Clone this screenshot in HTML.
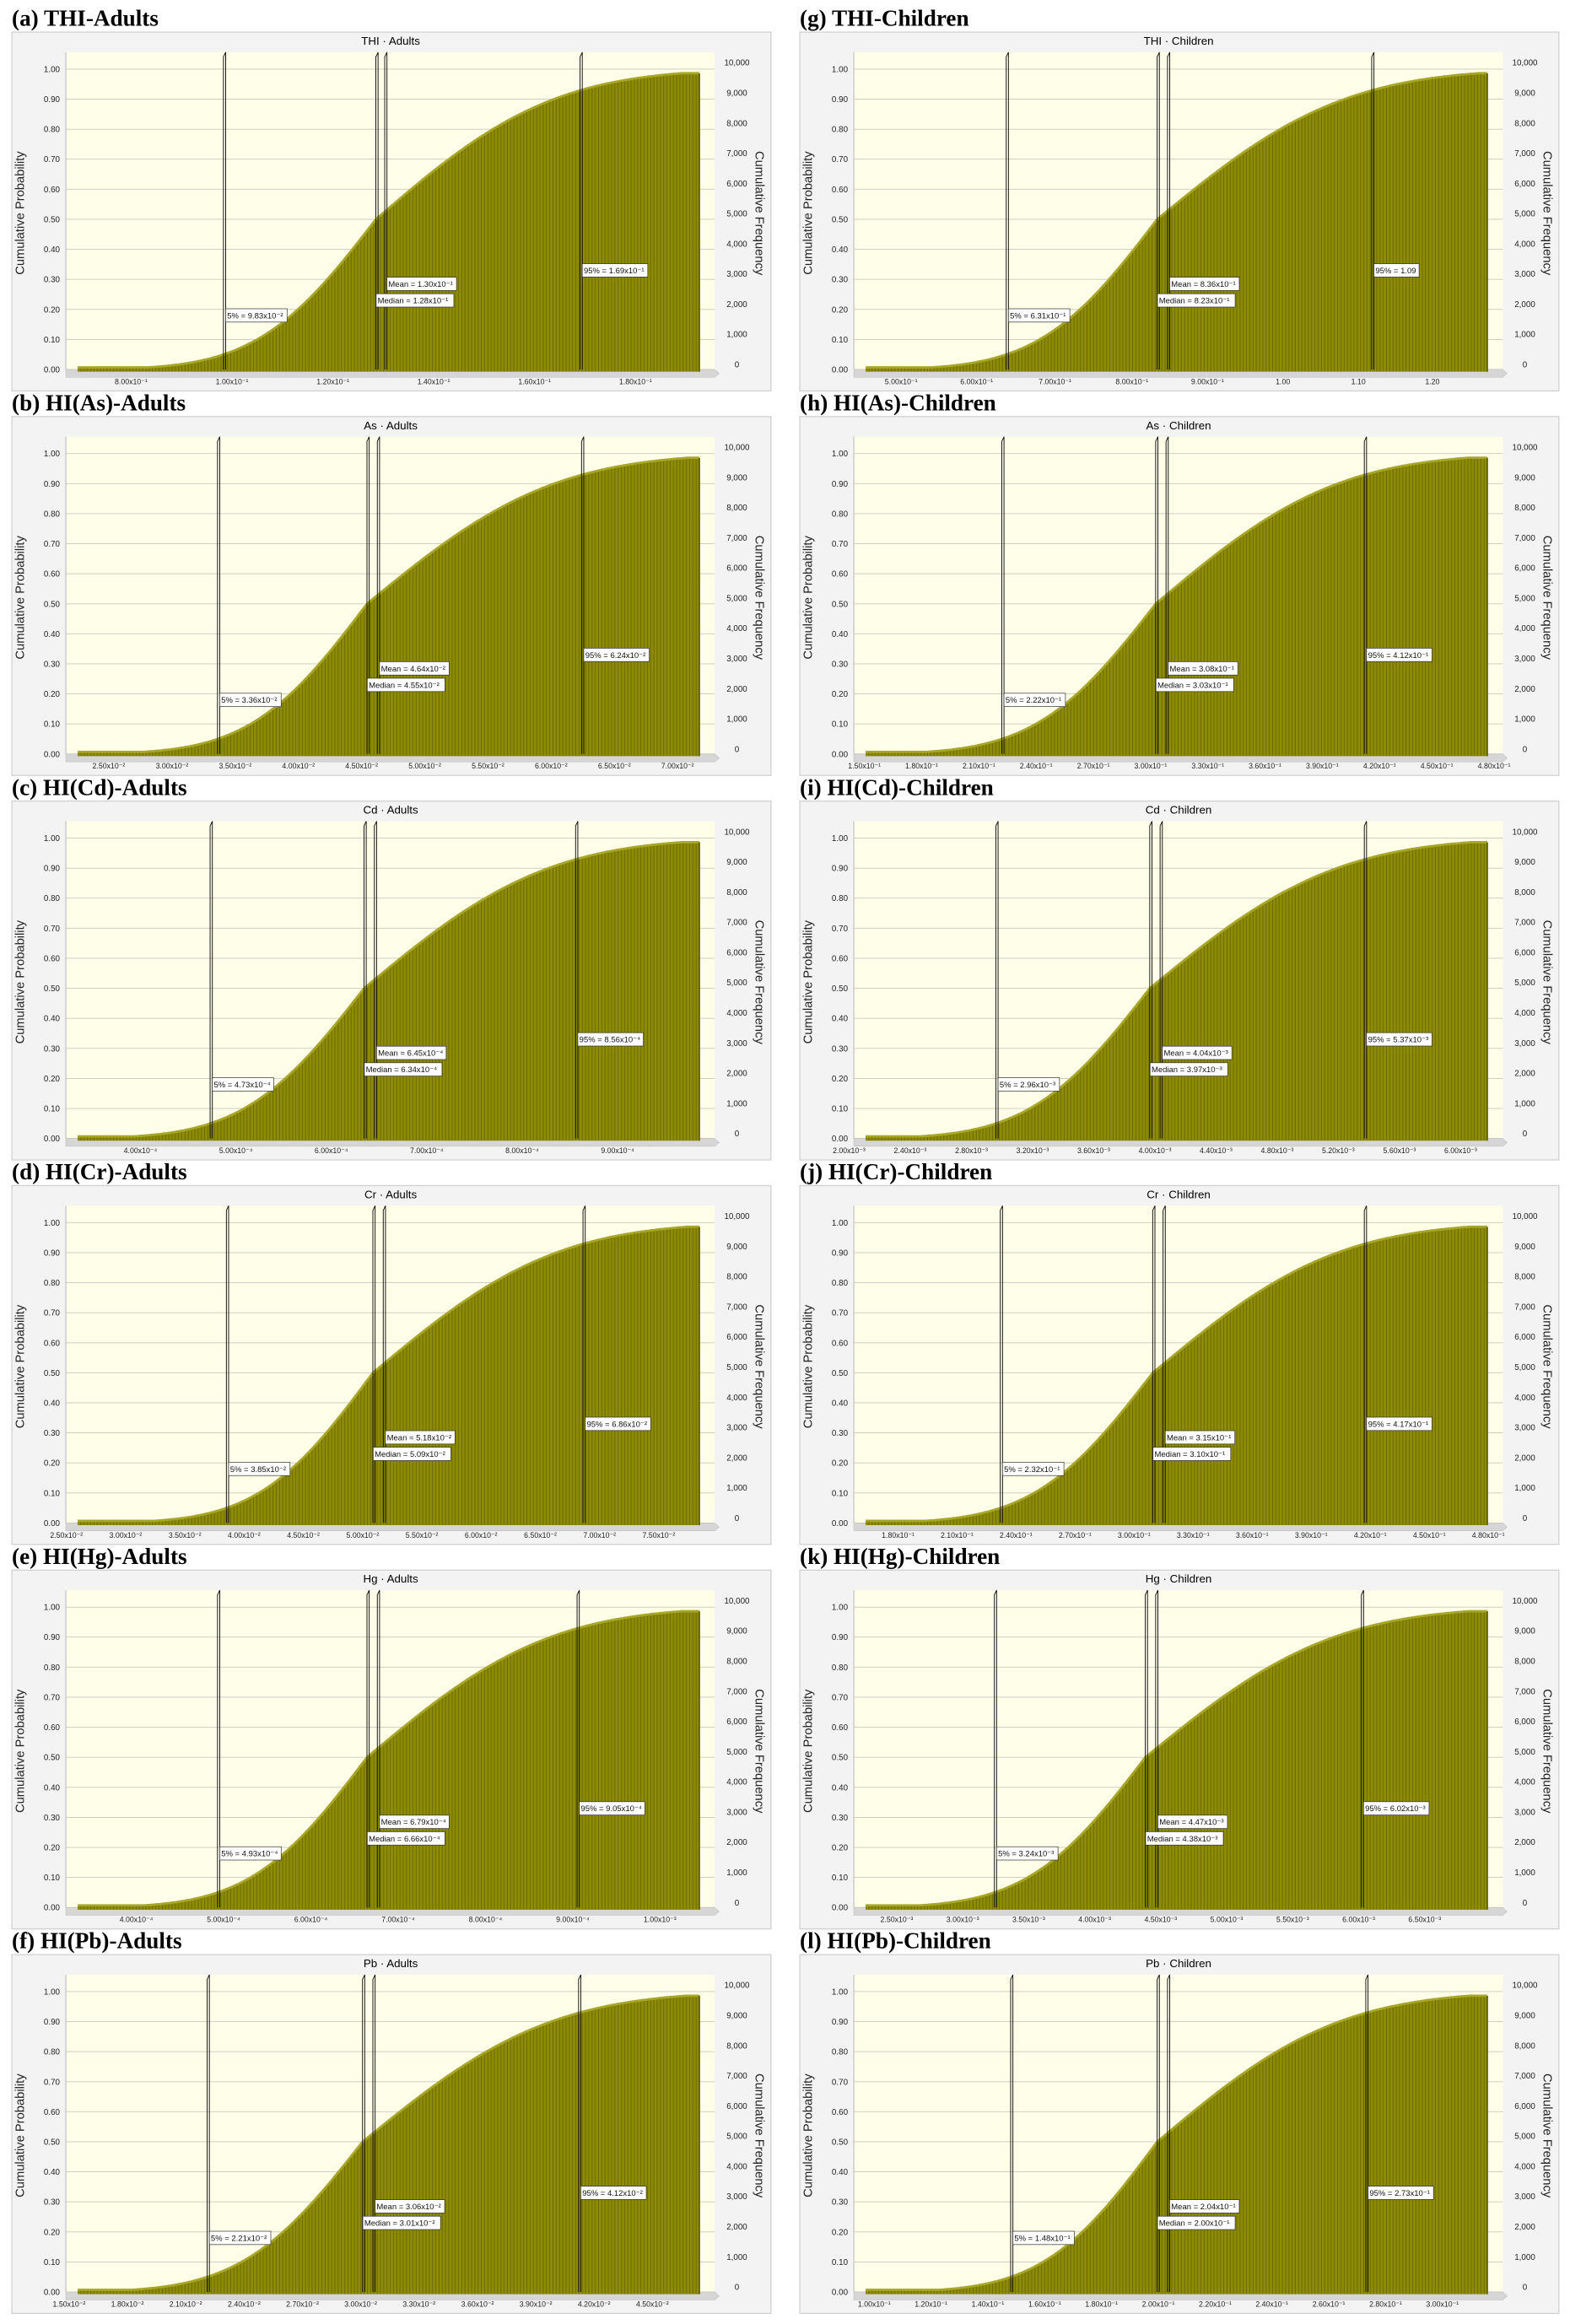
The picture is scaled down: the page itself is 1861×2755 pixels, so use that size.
<!DOCTYPE html>
<html><head><meta charset="utf-8">
<style>
html,body{margin:0;padding:0;background:#fff;}
svg{display:block;}
</style></head>
<body>
<svg id="s" xmlns="http://www.w3.org/2000/svg" width="1861" height="2755" viewBox="0 0 1061 1570.6" preserveAspectRatio="none">
<defs>
<pattern id="bars" patternUnits="userSpaceOnUse" width="2.2" height="10">
<rect width="2.2" height="10" fill="#8e8c06"/>
<rect x="1.6" width="0.6" height="10" fill="#6f6d00"/>
</pattern>
</defs>
<g id="root"></g>
</svg>
<script>
const sup=e=>{const m={'-':'⁻','1':'¹','2':'²','3':'³','4':'⁴'};return String(e).split('').map(c=>m[c]).join('');};
const f=(v,e)=>(v/Math.pow(10,e)).toFixed(2)+'x10'+sup(e);
function rng(a,b,s){const r=[];for(let v=a;v<=b+s*1e-6;v+=s)r.push(+v.toFixed(8));return r;}
const P=[
{L:'(a) THI-Adults',T:'THI · Adults',m:[151,254,260,392],v:[.0983,.169],
 tk:[[.08,'8.00x10⁻¹'],[.10,'1.00x10⁻¹'],[.12,'1.20x10⁻¹'],[.14,'1.40x10⁻¹'],[.16,'1.60x10⁻¹'],[.18,'1.80x10⁻¹']],
 lb:['5% = 9.83x10⁻²','Mean = 1.30x10⁻¹','Median = 1.28x10⁻¹','95% = 1.69x10⁻¹']},
{L:'(b) HI(As)-Adults',T:'As · Adults',m:[147,248,255,393],v:[.0336,.0624],
 tk:rng(.025,.070,.005).map(v=>[v,f(v,-2)]),
 lb:['5% = 3.36x10⁻²','Mean = 4.64x10⁻²','Median = 4.55x10⁻²','95% = 6.24x10⁻²']},
{L:'(c) HI(Cd)-Adults',T:'Cd · Adults',m:[142,246,253,389],v:[4.73e-4,8.56e-4],
 tk:rng(4e-4,9e-4,1e-4).map(v=>[v,f(v,-4)]),
 lb:['5% = 4.73x10⁻⁴','Mean = 6.45x10⁻⁴','Median = 6.34x10⁻⁴','95% = 8.56x10⁻⁴']},
{L:'(d) HI(Cr)-Adults',T:'Cr · Adults',m:[153,252,259,394],v:[.0385,.0686],
 tk:rng(.025,.075,.005).map(v=>[v,f(v,-2)]),
 lb:['5% = 3.85x10⁻²','Mean = 5.18x10⁻²','Median = 5.09x10⁻²','95% = 6.86x10⁻²']},
{L:'(e) HI(Hg)-Adults',T:'Hg · Adults',m:[147,248,255,390],v:[4.93e-4,9.05e-4],
 tk:rng(4e-4,1e-3,1e-4).map(v=>[v,v>=9.99e-4?'1.00x10⁻³':f(v,-4)]),
 lb:['5% = 4.93x10⁻⁴','Mean = 6.79x10⁻⁴','Median = 6.66x10⁻⁴','95% = 9.05x10⁻⁴']},
{L:'(f) HI(Pb)-Adults',T:'Pb · Adults',m:[140,245,252,391],v:[.0221,.0412],
 tk:rng(.015,.045,.003).map(v=>[v,f(v,-2)]),
 lb:['5% = 2.21x10⁻²','Mean = 3.06x10⁻²','Median = 3.01x10⁻²','95% = 4.12x10⁻²']},
{L:'(g) THI-Children',T:'THI · Children',m:[680,782,789,927],v:[.631,1.09],
 tkp:[[609,'5.00x10⁻¹'],[660,'6.00x10⁻¹'],[713,'7.00x10⁻¹'],[765,'8.00x10⁻¹'],[816,'9.00x10⁻¹'],[867,'1.00'],[918,'1.10'],[968,'1.20']],
 lb:['5% = 6.31x10⁻¹','Mean = 8.36x10⁻¹','Median = 8.23x10⁻¹','95% = 1.09']},
{L:'(h) HI(As)-Children',T:'As · Children',m:[677,781,788,922],v:[.222,.412],
 tk:rng(.15,.48,.03).map(v=>[v,f(v,-1)]),
 lb:['5% = 2.22x10⁻¹','Mean = 3.08x10⁻¹','Median = 3.03x10⁻¹','95% = 4.12x10⁻¹']},
{L:'(i) HI(Cd)-Children',T:'Cd · Children',m:[673,777,784,922],v:[2.96e-3,5.37e-3],
 tk:rng(2e-3,6e-3,4e-4).map(v=>[v,f(v,-3)]),
 lb:['5% = 2.96x10⁻³','Mean = 4.04x10⁻³','Median = 3.97x10⁻³','95% = 5.37x10⁻³']},
{L:'(j) HI(Cr)-Children',T:'Cr · Children',m:[676,779,786,922],v:[.232,.417],
 tk:rng(.18,.48,.03).map(v=>[v,f(v,-1)]),
 lb:['5% = 2.32x10⁻¹','Mean = 3.15x10⁻¹','Median = 3.10x10⁻¹','95% = 4.17x10⁻¹']},
{L:'(k) HI(Hg)-Children',T:'Hg · Children',m:[672,774,781,920],v:[3.24e-3,6.02e-3],
 tk:rng(2.5e-3,6.5e-3,5e-4).map(v=>[v,f(v,-3)]),
 lb:['5% = 3.24x10⁻³','Mean = 4.47x10⁻³','Median = 4.38x10⁻³','95% = 6.02x10⁻³']},
{L:'(l) HI(Pb)-Children',T:'Pb · Children',m:[683,782,789,923],v:[.148,.273],
 tk:rng(.10,.30,.02).map(v=>[v,f(v,-1)]),
 lb:['5% = 1.48x10⁻¹','Mean = 2.04x10⁻¹','Median = 2.00x10⁻¹','95% = 2.73x10⁻¹']}
];
function Phi(z){const t=1/(1+0.2316419*Math.abs(z));const d=0.3989423*Math.exp(-z*z/2);let p=d*t*(0.3193815+t*(-0.3565638+t*(1.781478+t*(-1.821256+t*1.330274))));return z>0?1-p:p;}
let h='';
const Y0=249.7,SC=203;
P.forEach((p,i)=>{
 const col=i<6?0:1,row=i%6;
 const dx=col*532.5,dy=row*259.85;
 const m=p.m.map(x=>x-dx);
 let g=`<g transform="translate(${dx},${dy})">`;
 g+=`<text x="8" y="17.5" font-family="Liberation Serif" font-weight="bold" font-size="15.5">${p.L}</text>`;
 g+=`<rect x="8" y="21.7" width="513" height="242.5" fill="#f3f3f3" stroke="#cfcfcf" stroke-width="0.7"/>`;
 g+=`<text x="264" y="30.2" text-anchor="middle" font-family="Liberation Sans" font-size="7.6">${p.T}</text>`;
 g+=`<rect x="44.5" y="35.3" width="438.5" height="214.4" fill="#fefee9"/>`;
 g+=`<path d="M44.5 35.3 L44.5 249.7" stroke="#bbb" stroke-width="0.6"/>`;
 for(let k=0;k<=10;k++){const y=Y0-SC*k/10;
  g+=`<line x1="44.5" x2="483" y1="${y}" y2="${y}" stroke="#c9c9bd" stroke-width="0.5"/>`;
  g+=`<text x="40.5" y="${y+2}" text-anchor="end" font-family="Liberation Sans" font-size="5.6" fill="#222">${(k/10).toFixed(2)}</text>`;
  const yr=246.3-20.4*k;
  g+=`<text x="498" y="${yr+2}" text-anchor="middle" font-family="Liberation Sans" font-size="5.6" fill="#222">${k==0?'0':(k*1000).toLocaleString('en-US')}</text>`;
 }
 g+=`<text transform="translate(16.2,144) rotate(-90)" text-anchor="middle" font-family="Liberation Sans" font-size="8.4" fill="#222">Cumulative Probability</text>`;
 g+=`<text transform="translate(510.5,144) rotate(90)" text-anchor="middle" font-family="Liberation Sans" font-size="8.4" fill="#222">Cumulative Frequency</text>`;
 // floor
 g+=`<path d="M44.5 249.7 L483 249.7 L486 252.5 L483 255 L44.5 255 Z" fill="#d6d6d6" stroke="#bbb" stroke-width="0.3"/>`;
 // curve
 const sl=(m[1]-m[0])/1.645,sr=(m[3]-m[1])/1.645*1.12;
 const xs=52.5,xe=472.6;
 let pts=[];
 for(let x=xs;x<=xe+0.01;x+=1){const z=(x-m[1])/(x<m[1]?sl:sr);let c=Phi(z);c=Math.max(c,0.007);c=Math.min(c,0.986);pts.push([x,Y0-SC*c]);}
 let d=`M${xs} ${Y0+1.5} `+pts.map(q=>`L${q[0].toFixed(1)} ${q[1].toFixed(1)}`).join(' ')+` L${xe} ${Y0+1.5} Z`;
 g+=`<path d="${d}" fill="url(#bars)"/>`;
 g+=`<path d="${pts.map((q,j)=>(j?'L':'M')+q[0].toFixed(1)+' '+q[1].toFixed(1)).join(' ')}" fill="none" stroke="#a8a628" stroke-width="1.6"/>`;
 g+=`<path d="M${xe} ${pts[pts.length-1][1]} L${xe} ${Y0+1.5}" stroke="#5e5c00" stroke-width="1"/>`;
 // marker lines
 m.forEach(x=>{g+=`<path d="M${x} ${Y0} L${x} 38.5 L${x+1.5} 35.3 L${x+1.5} ${Y0}" fill="none" stroke="#111" stroke-width="0.55"/>`;});
 // ticks
 const k=(m[3]-m[0])/(p.v[1]-p.v[0]);
 const tks=p.tkp?p.tkp.map(t=>[t[0]-dx,t[1]]):p.tk.map(t=>[m[0]+(t[0]-p.v[0])*k,t[1]]);
 tks.forEach(t=>{g+=`<text x="${t[0].toFixed(1)}" y="259.6" text-anchor="middle" font-family="Liberation Sans" font-size="5" fill="#222">${t[1]}</text>`;});
 // labels
 const lab=(x,pr,t,w)=>{const y=Y0-SC*pr;return `<rect x="${x}" y="${y-4.5}" width="${w}" height="9" fill="#fff" stroke="#333" stroke-width="0.4"/><text x="${x+1}" y="${y+2}" font-family="Liberation Sans" font-size="5.4" fill="#111">${t}</text>`;};
 const w=t=>t.length*2.75+3;
 g+=lab(m[0]+1.5,0.18,p.lb[0],w(p.lb[0]));
 g+=lab(m[2]+1.5,0.285,p.lb[1],w(p.lb[1]));
 g+=lab(m[1]+0.2,0.23,p.lb[2],w(p.lb[2]));
 g+=lab(m[3]+1.5,0.33,p.lb[3],w(p.lb[3]));
 g+='</g>';
 h+=g;
});
document.getElementById('root').innerHTML=h;
</script>
</body></html>
